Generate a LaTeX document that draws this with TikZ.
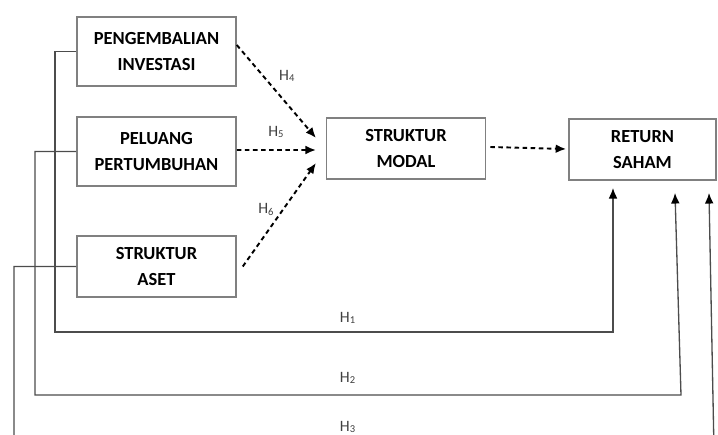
\documentclass[tikz,border=0pt]{standalone}
\usepackage{fontspec}
\setmainfont{Carlito}
\usepackage{tikz}
\usetikzlibrary{arrows.meta, positioning, calc}

\begin{document}
\begin{tikzpicture}[x=0.02cm, y=-0.02cm,
    block/.style={rectangle, draw=black!50, line width=0.9pt, align=center, minimum width=3.18cm, minimum height=1.22cm, inner sep=0pt, font=\fontsize{10.5}{14.5}\selectfont\bfseries},
    link/.style={draw=black!70, line width=0.75pt, -{Latex[length=6pt, width=5pt, color=black]}},
    hyp/.style={draw=black, line width=1.1pt, dash pattern=on 2.6pt off 2pt, -{Latex[length=6pt, width=5pt]}},
    lbl/.style={font=\fontsize{9}{10}\selectfont, text=black!75}
]
    \clip (0,0) rectangle (718,435);
    \useasboundingbox (0,0) rectangle (718,435);

    \node [block, minimum height=1.38cm] (inv) at (156.5,51.5) {PENGEMBALIAN\\INVESTASI};
    \node [block, minimum height=1.38cm] (grow) at (156.5,151.5) {PELUANG\\PERTUMBUHAN};
    \node [block] (aset) at (156.5,266.5) {STRUKTUR\\ASET};
    \node [block] (modal) at (406,148.5) {STRUKTUR\\MODAL};
    \node [block, minimum width=2.94cm] (ret) at (642.5,149.5) {RETURN\\SAHAM};

    % ends of the direct paths
    \coordinate (c1) at (55,332);
    \coordinate (t1) at (613,188);
    \coordinate (c2) at (35,395);
    \coordinate (b2) at (681,395);
    \coordinate (t2) at (675,193);
    \coordinate (c3) at (14,450);
    \coordinate (b3) at (714,450);
    \coordinate (t3) at (709,193);

    % tips of the dashed arrows
    \coordinate (m4) at (316,138);
    \coordinate (m5) at (316,150);
    \coordinate (m6) at (316,163);

    % Direct paths
    \draw [link] (inv.west) -| (c1) -| (t1);
    \draw [link] (grow.west) -| (c2) -- (b2) -- (t2);
    \draw [link] (aset.west) -| (c3) -- (b3) -- (t3);
    \node [lbl] (h1) at (348,318) {H\textsubscript{1}};
    \node [lbl] (h2) at (348,378) {H\textsubscript{2}};
    \node [lbl] (h3) at (348,427) {H\textsubscript{3}};

    % Paths through struktur modal
    \draw [hyp] ([yshift=0.13cm]inv.east) -- node[lbl, pos=0.45, above right=-1pt and 0pt] {H\textsubscript{4}} (m4);
    \draw [hyp] ([yshift=0.03cm]grow.east) -- node[lbl, above=3pt] {H\textsubscript{5}} (m5);
    \draw [hyp] ([xshift=0.12cm]aset.east) -- node[lbl, pos=0.55, left=1pt] {H\textsubscript{6}} (m6);
    \draw [hyp] ([xshift=0.08cm,yshift=0.03cm]modal.east) -- ([xshift=-0.04cm,yshift=0.01cm]ret.west);
\end{tikzpicture}
\end{document}
